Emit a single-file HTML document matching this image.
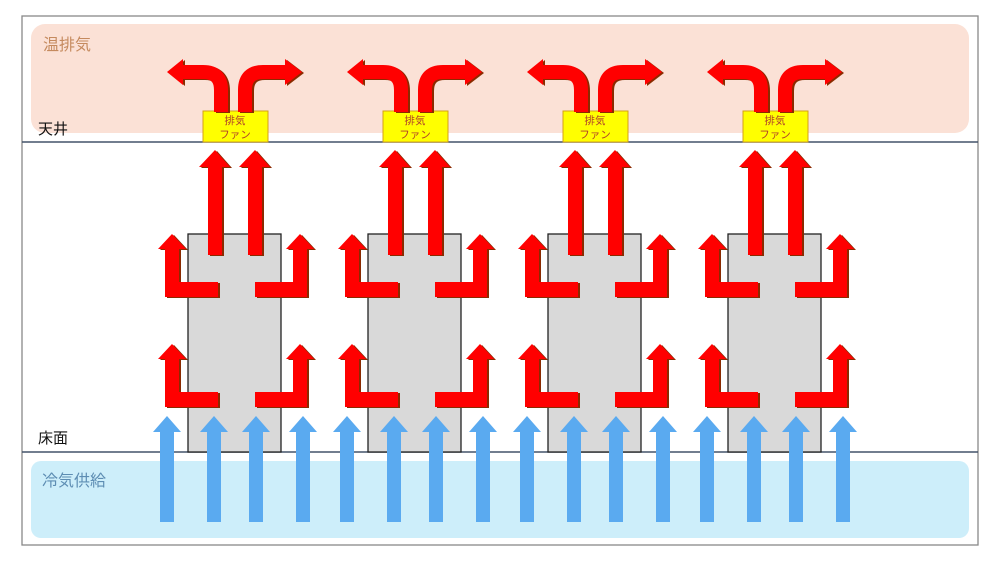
<!DOCTYPE html>
<html><head><meta charset="utf-8"><style>
html,body{margin:0;padding:0;background:#fff;}
svg{display:block;font-family:"Liberation Sans","Noto Sans CJK JP",sans-serif;}
</style></head><body>
<svg width="1000" height="562" viewBox="0 0 1000 562" xmlns="http://www.w3.org/2000/svg">
<defs>
<g id="red">
 <g stroke-width="0">
  <rect x="208" y="166" width="14" height="89"/>
  <polygon points="199,167 215,150 230,167"/>
  <rect x="248" y="166" width="14" height="89"/>
  <polygon points="239,167 255,150 270,167"/>
  <polygon points="165,248 179,248 179,282 218,282 218,297 165,297"/>
  <polygon points="158,249 172,234 186,249"/>
  <polygon points="307,248 293,248 293,282 255,282 255,297 307,297"/>
  <polygon points="286,249 300,234 314,249"/>
  <polygon points="165,358 179,358 179,392 218,392 218,407 165,407"/>
  <polygon points="158,359 172,344 186,359"/>
  <polygon points="307,358 293,358 293,392 255,392 255,407 307,407"/>
  <polygon points="286,359 300,344 314,359"/>
  <polygon points="183,59 167,72 183,85"/>
  <polygon points="285,59 302,72 285,85"/>
 </g>
  <path d="M221,112 V90 Q221,72 203,72 H182" fill="none" stroke-width="14"/>
  <path d="M245,112 V90 Q245,72 263,72 H286" fill="none" stroke-width="14"/>
</g>
<g id="blue">
  <rect x="160" y="431" width="14" height="91"/>
  <polygon points="153,432 167,416 181,432"/>
  <rect x="207" y="431" width="14" height="91"/>
  <polygon points="200,432 214,416 228,432"/>
  <rect x="249" y="431" width="14" height="91"/>
  <polygon points="242,432 256,416 270,432"/>
  <rect x="296" y="431" width="14" height="91"/>
  <polygon points="289,432 303,416 317,432"/>
</g>
<g id="unit">
  <rect x="188" y="234" width="93" height="218" fill="#d9d9d9" stroke="#222" stroke-width="1.3"/>
  <rect x="203" y="111" width="65" height="31" fill="#ffff00" stroke="#d4a017" stroke-width="1"/>
  <use href="#red" fill="#8b2a00" stroke="#8b2a00" transform="translate(2,1)"/>
  <use href="#red" fill="#ff0000" stroke="#ff0000"/>
</g>
</defs>
<rect x="22" y="16" width="956" height="529" fill="#fff" stroke="#888" stroke-width="1.3"/>
<rect x="31" y="24" width="938" height="109" rx="14" fill="#fbe1d6"/>
<rect x="31" y="461" width="938" height="77" rx="10" fill="#cdeefa"/>
<line x1="22" y1="142" x2="978" y2="142" stroke="#44546a" stroke-width="1.5"/>
<line x1="22" y1="452" x2="978" y2="452" stroke="#44546a" stroke-width="1.5"/>
<text x="43" y="50" font-size="16" fill="#c58a5e">温排気</text>
<text x="38" y="134" font-size="15" fill="#111">天井</text>
<text x="38" y="443" font-size="15" fill="#111">床面</text>
<text x="42" y="486" font-size="16" fill="#5d8db3">冷気供給</text>
<use href="#unit"/>
<use href="#unit" x="180"/>
<use href="#unit" x="360"/>
<use href="#unit" x="540"/>
<g fill="#5aaaf0">
<use href="#blue"/>
<use href="#blue" x="180"/>
<use href="#blue" x="360"/>
<use href="#blue" x="540"/>
</g>
<g font-size="10.5" fill="#b0402a" text-anchor="middle">
<text x="235" y="124">排気</text><text x="235" y="138">ファン</text>
<text x="415" y="124">排気</text><text x="415" y="138">ファン</text>
<text x="595" y="124">排気</text><text x="595" y="138">ファン</text>
<text x="775" y="124">排気</text><text x="775" y="138">ファン</text>
</g>
</svg>
</body></html>
